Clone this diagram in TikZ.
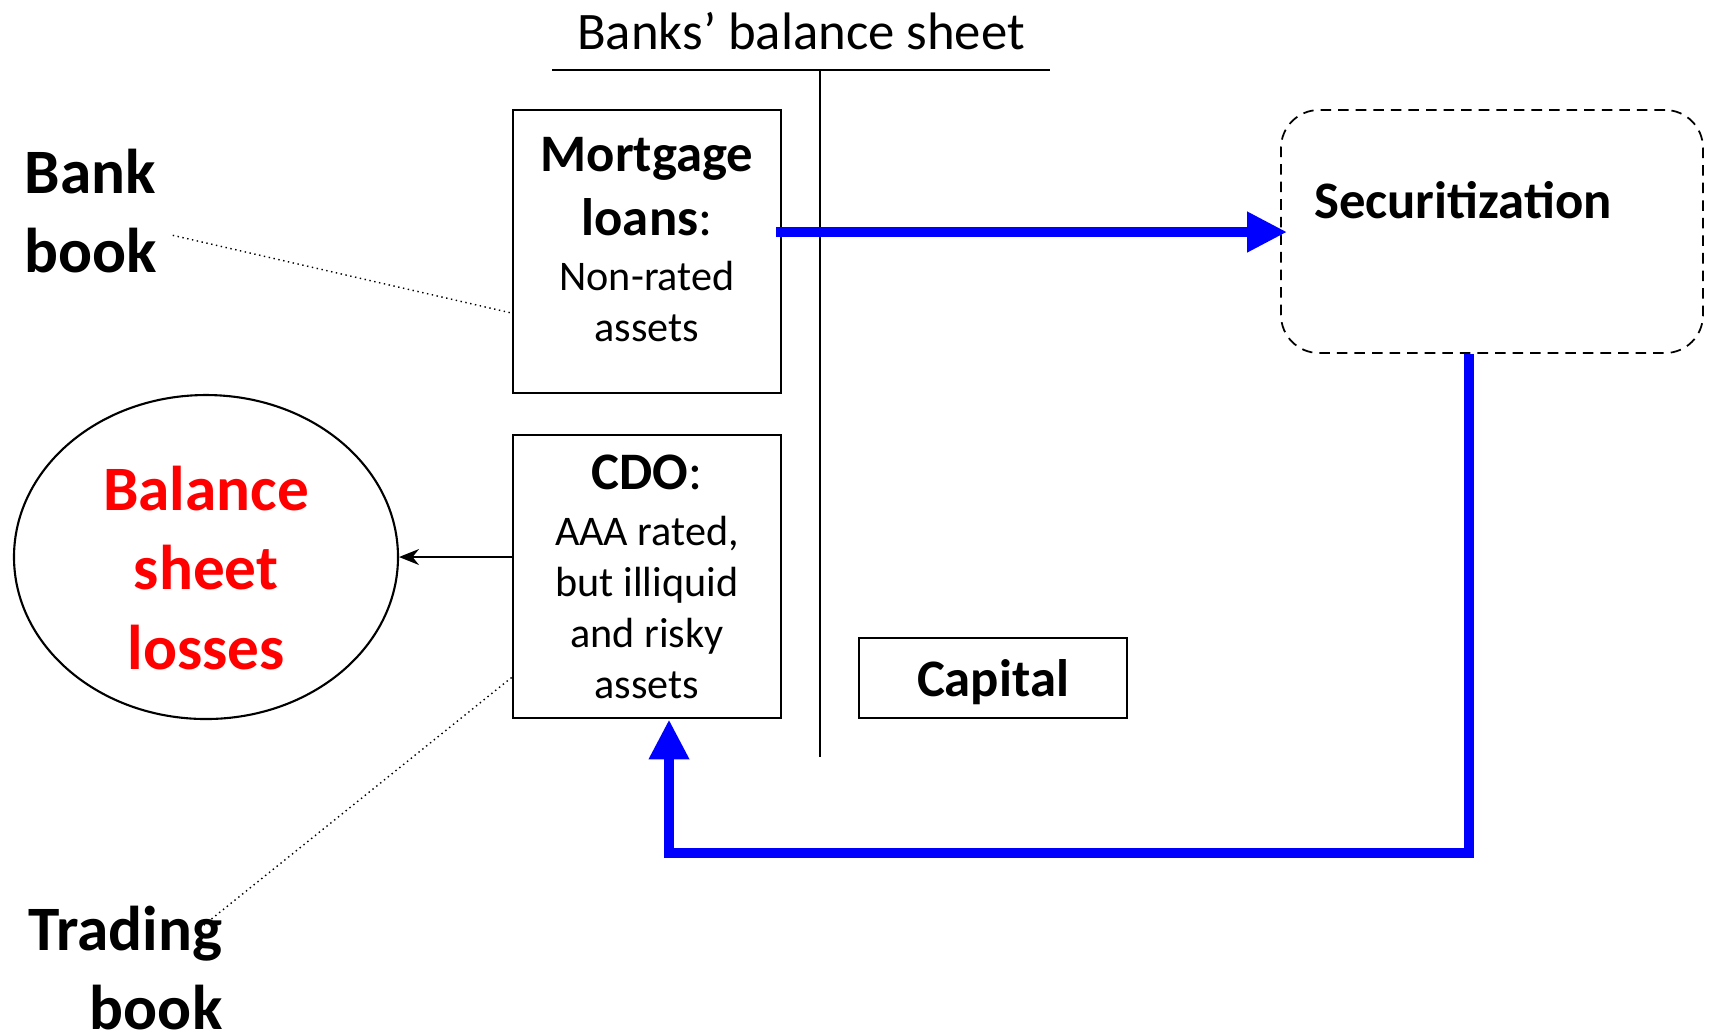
\documentclass[tikz,border=0pt]{standalone}
\usepackage{fontspec}
\setmainfont{Carlito}
\usetikzlibrary{arrows.meta,shapes.geometric}

\begin{document}
\begin{tikzpicture}[x=1cm, y=1cm,
    sheetbox/.style={draw, line width=0.8pt, minimum width=2.68cm, minimum height=2.83cm, align=center, inner sep=0pt, font=\fontsize{12}{14.5}\selectfont},
    flow/.style={draw=blue, line width=3pt, -{Triangle[length=4mm, width=3.8mm]}},
    link/.style={densely dotted, line width=0.4pt},
    bigbold/.style={font=\fontsize{18}{22.5}\selectfont\bfseries, inner sep=0pt},
    headbold/.style={font=\fontsize{15}{18}\selectfont\bfseries},
    ]
    % Fix the page size
    \useasboundingbox (0,0) rectangle (17.09,-10.32);

    % Title and the T of the balance sheet
    \node[font=\fontsize{15}{18}\selectfont] (title) at (8.01,-0.31) {Banks’ balance sheet};
    \coordinate (tleft) at (5.52,-0.70);
    \coordinate (tright) at (10.50,-0.70);
    \coordinate (ttop) at (8.20,-0.70);
    \coordinate (tbottom) at (8.20,-7.57);
    \draw[line width=0.6pt] (tleft) -- (tright);
    \draw[line width=0.5pt] (ttop) -- (tbottom);

    % Assets and capital
    \node[sheetbox, text depth=7pt] (mort) at (6.47,-2.515) {{\fontsize{15}{18}\selectfont\textbf{Mortgage}}\\[3.7pt]{\fontsize{15}{18}\selectfont\textbf{loans}:}\\[1pt]Non-rated\\assets};
    \node[sheetbox] (cdo) at (6.47,-5.765) {{\fontsize{15}{18}\selectfont\textbf{CDO}:}\\[1.5pt]AAA rated,\\but illiquid\\and risky\\assets};
    \node[draw, line width=0.8pt, minimum width=2.68cm, minimum height=0.80cm, headbold, text depth=0pt] (capital) at (9.93,-6.78) {Capital};

    % Securitization
    \node[draw, densely dashed, line width=0.5pt, rounded corners=0.38cm, minimum width=4.22cm, minimum height=2.43cm] (secur) at (14.92,-2.315) {};
    \node[headbold] (sectext) at (14.63,-2.00) {Securitization};

    % Losses and the two books
    \node[ellipse, draw, line width=0.6pt, minimum width=3.84cm, minimum height=3.24cm, inner sep=0pt] (loss) at (2.06,-5.57) {};
    \node[bigbold, text=red, align=center] (losstext) at ([yshift=-1.1mm]loss.center) {Balance\\sheet\\losses};
    \node[bigbold, align=left, anchor=west] (bankbook) at (0.24,-2.113) {Bank\\book};
    \node[bigbold, align=right, anchor=east] (tradbook) at (2.23,-9.68) {Trading\\book};

    % Flows
    \draw[flow] ([xshift=-0.6mm,yshift=1.95mm]mort.east) coordinate (mout) -- ([xshift=0.7mm]secur.west |- mout);
    \draw[flow] ([xshift=-2.3mm]secur.south) -- ++(0,-4.99) -| ([xshift=2.2mm]cdo.south);
    \draw[-{Stealth[length=2mm, width=1.6mm]}, line width=0.5pt] (loss.east -| cdo.west) -- (loss.east);

    % Dotted links to the books
    \draw[link] ([xshift=0.15cm,yshift=-0.24cm]bankbook.east) -- ([yshift=-0.615cm]mort.west);
    \draw[link] ([yshift=-1.01cm]cdo.west) -- ([xshift=-0.24cm,yshift=0.39cm]tradbook.east);
\end{tikzpicture}
\end{document}
